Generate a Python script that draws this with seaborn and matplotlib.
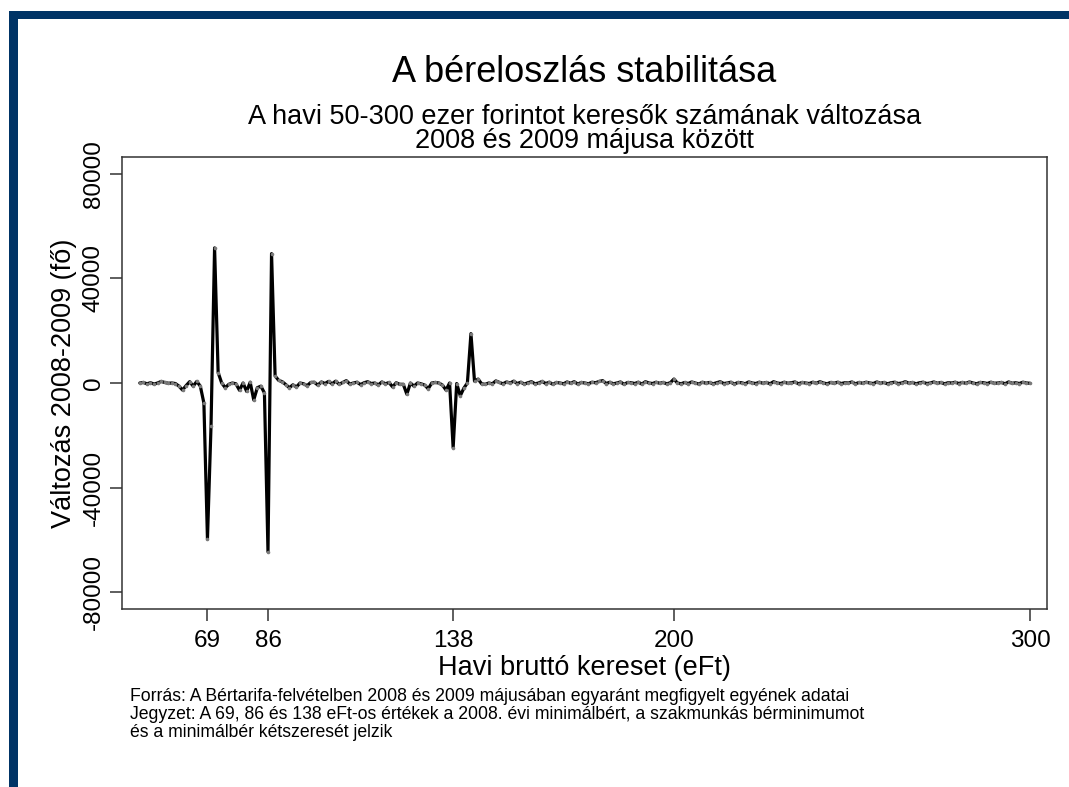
import numpy as np
import pandas as pd
import matplotlib
matplotlib.use("Agg")
import matplotlib.pyplot as plt
import seaborn as sns
from matplotlib.patches import Rectangle

# ---- data ----
change = (
    # 50-67
    [0, 200, -300, 100, -400, 0, 600, 200, -100, 0, -200, -1200, -2700, -1000, 500, -1200, 600, -1200]
    # 68-72
    + [-7700, -59700, -16500, 51700, 4000]
    # 73-85
    + [0, -1800, -500, 0, -300, -2800, 0, -3200, 300, -6500, -1800, -1200, -3800]
    # 86-88
    + [-64600, 49500, 2700]
    # 89-100
    + [1000, 500, -600, -1800, -700, -1500, 0, -300, -1000, 200, 300, -800]
    # 101-123
    + [400, -200, 600, -300, 700, -500, 200, 900, -400, 0, 300, -600, 100, 500, -200, 0,
       -700, 400, -300, 200, -1500, 100, -500]
    # 124-149
    + [-500, -4300, 0, -1200, 0, -300, -800, -2200, 0, 200, 0, -800, -2700, 0, -24800,
       -200, -4900, -2000, 0, 18900, 700, 1500, -300, -500, 0, -300]
    # 150-300
    + [800, 200, -300, 400, 0, 700, -200, 300, -400, 100,
       500, -300, 0, 600, -200, 300, -500, 200, 0, -300,
       400, -100, 500, -400, 200, 0, -300, 300, 100, 600,
       900, -200, 300, -300, 0, 400, -500, 200, 100, -200,
       300, -400, 500, 0, -200, 300, -100, 200, -300, 100,
       1500, 0, -300, 200, -200, 400, 0, -400, 300, -100,
       200, -300, 100, 500, -200, 0, 300, -400, 200, 100,
       -300, 400, 0, -200, 300, -100, 200, -300, 500, 0,
       -200, 300, -100, 100, 400, -300, 200, 0, -200, 300,
       -100, 500, 0, -300, 200, -100, 300, -200, 100, 0,
       400, -300, 200, -100, 300, 0, -200, 400, -100, 200,
       -300, 100, 300, -200, 0, 500, -100, 200, -300, 100,
       300, -200, 0, 400, -100, 200, -300, 100, 0, 300,
       -200, 200, -100, 400, 0, -300, 200, 100, -200, 300,
       -100, 0, 200, -300, 400, -100, 100, -200, 300, 0,
       -100]
)
earnings = list(range(50, 50 + len(change)))
x_ticks = [69, 86, 138, 200, 300]
y_ticks = [-80000, -40000, 0, 40000, 80000]

title = "A béreloszlás stabilitása"
subtitle1 = "A havi 50-300 ezer forintot keresők számának változása"
subtitle2 = "2008 és 2009 májusa között"
xlabel = "Havi bruttó kereset (eFt)"
ylabel = "Változás 2008-2009 (fő)"
note = ("Forrás: A Bértarifa-felvételben 2008 és 2009 májusában egyaránt megfigyelt egyének adatai\n"
        "Jegyzet: A 69, 86 és 138 eFt-os értékek a 2008. évi minimálbért, a szakmunkás bérminimumot\n"
        "és a minimálbér kétszeresét jelzik")

sns.set_theme(style="white")
plt.rcParams["font.family"] = ["Liberation Sans", "DejaVu Sans"]
plt.rcParams["text.color"] = "black"
plt.rcParams["axes.labelcolor"] = "black"
plt.rcParams["xtick.color"] = "black"
plt.rcParams["ytick.color"] = "black"

W, H = 1069, 787
fig = plt.figure(figsize=(W / 100, H / 100), dpi=100)
fig.patch.set_facecolor("white")

L, R, T, B = 122, 1046.7, 157, 609
ax = fig.add_axes([L / W, 1 - B / H, (R - L) / W, (B - T) / H])

df = pd.DataFrame({"kereset": earnings, "valtozas": change})
sns.lineplot(data=df, x="kereset", y="valtozas", ax=ax, color="black", lw=2.3,
             marker="o", markersize=2.6, markerfacecolor="#7a7a7a",
             markeredgecolor="#7a7a7a", markeredgewidth=0)

ax.set_xlim(45, 304.7)
ax.set_ylim(-86500, 86500)
ax.set_xticks(x_ticks)
ax.set_xticklabels([str(v) for v in x_ticks])
ax.set_yticks(y_ticks)
ax.set_yticklabels([str(v) for v in y_ticks], rotation=90, va="center")
ax.tick_params(axis="both", direction="out", length=8.5, width=1.1, color="#333333",
               labelsize=17.5, labelcolor="black", pad=3.8, bottom=True, left=True,
               top=False, right=False)
ax.tick_params(axis="x", pad=6.5)
ax.set_xlabel(xlabel, fontsize=19.5, va="center")
ax.xaxis.set_label_coords(0.5, (B - 668) / (B - T))
ax.set_ylabel(ylabel, fontsize=19.5, va="center")
ax.yaxis.set_label_coords((64 - L) / (R - L), 0.5)
for s in ax.spines.values():
    s.set_color("#333333")
    s.set_linewidth(1.1)
ax.grid(False)

cx = 0.5 * (L + R) / W
fig.text(cx, 1 - 72 / H, title, ha="center", va="center", fontsize=26)
fig.text(cx, 1 - 117 / H, subtitle1, ha="center", va="center", fontsize=19.5)
fig.text(cx, 1 - 141 / H, subtitle2, ha="center", va="center", fontsize=19.5)
fig.text(130 / W, 1 - 688 / H, note, ha="left", va="top", fontsize=12.7, linespacing=1.08)

navy = "#003466"
fig.patches.append(Rectangle((9 / W, 0), 8.6 / W, 1 - 11 / H, transform=fig.transFigure,
                             facecolor=navy, edgecolor="none", zorder=0))
fig.patches.append(Rectangle((9 / W, 1 - 19 / H), 1, 8 / H, transform=fig.transFigure,
                             facecolor=navy, edgecolor="none", zorder=0))

fig.savefig("out.png", dpi=100)
